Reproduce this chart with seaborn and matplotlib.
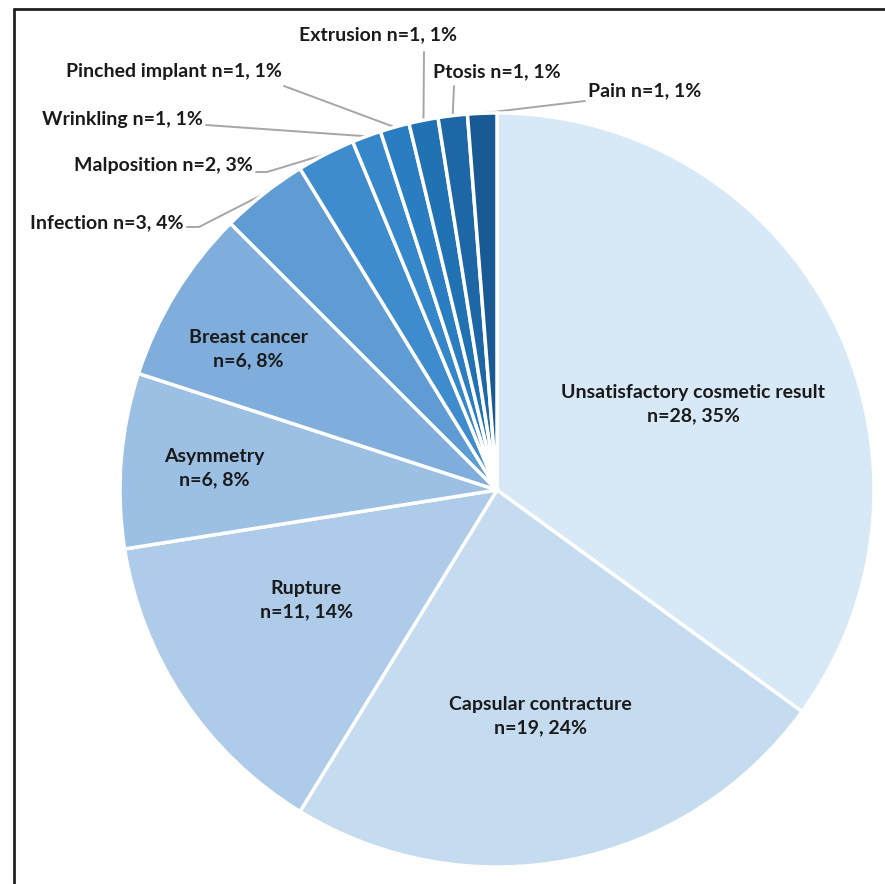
import matplotlib
matplotlib.use("Agg")
import matplotlib.pyplot as plt
import seaborn as sns
import numpy as np
from matplotlib.lines import Line2D

# ---------------- data ----------------
categories = ["Unsatisfactory cosmetic result", "Capsular contracture", "Rupture",
              "Asymmetry", "Breast cancer", "Infection", "Malposition", "Wrinkling",
              "Pinched implant", "Extrusion", "Ptosis", "Pain"]
counts = [28, 19, 11, 6, 6, 3, 2, 1, 1, 1, 1, 1]
colors = ["#D7E8F6", "#C4DBF0", "#AECBE9", "#9BC0E4", "#7FAEDD", "#5F9CD4",
          "#3E8CCD", "#3587CA", "#2A7DC0", "#2172B3", "#1E67A6", "#1A5A94"]

# ---------------- layout ----------------
# inner label centres (px)
inner_layout = {"Unsatisfactory cosmetic result": (693, 404), "Capsular contracture": (540, 716),
                "Rupture": (306, 600), "Asymmetry": (214, 468), "Breast cancer": (248, 349)}
# outer labels: text anchor (px), ha, leader line points (px) before reaching the wedge edge
outer_layout = {
    "Infection":       (183, 223, "right",  [(187, 227), (199, 227)]),
    "Malposition":     (253, 165, "right",  [(256, 172), (267, 172)]),
    "Wrinkling":       (203, 119, "right",  [(206, 125)]),
    "Pinched implant": (282, 71,  "right",  [(284, 86)]),
    "Extrusion":       (378, 35,  "center", [(424, 52)]),
    "Ptosis":          (497, 72,  "center", [(454, 86)]),
    "Pain":            (588, 91,  "left",   [(585, 101)]),
}

sns.set_theme(style="white")
plt.rcParams['font.family'] = ['Lato', 'DejaVu Sans']

W, H = 885, 884
fig = plt.figure(figsize=(W / 100, H / 100), dpi=100)
fig.patch.set_facecolor("white")
CX, CY, RX, RY = 497, 490, 377, 377
ax = fig.add_axes([(CX - RX) / W, (H - CY - RY) / H, 2 * RX / W, 2 * RY / H])

wedges, _ = ax.pie(counts, colors=colors, startangle=90, counterclock=False, radius=1,
                   wedgeprops=dict(edgecolor="white", linewidth=2.5))
for w in wedges:
    w.set_clip_on(False)
ax.set_xlim(-1, 1)
ax.set_ylim(-1, 1)
ax.set_aspect("auto")
ax.axis("off")


def px2d(px, py):
    return ((px - CX) / RX, (CY - py) / RY)


total = sum(counts)
cum = 0
FS = 14
for name, c in zip(categories, counts):
    pct = int(np.floor(c / total * 100 + 0.5))
    theta = np.deg2rad(90 - (cum + c / 2) / total * 360)
    cum += c
    if name in inner_layout:
        x0, y0 = px2d(*inner_layout[name])
        ax.text(x0, y0, f"{name}\nn={c}, {pct}%",
                ha="center", va="center", fontsize=FS, fontweight="bold",
                color="#1a1a1a", linespacing=1.46)
    else:
        tx, ty, ha, pts = outer_layout[name]
        x0, y0 = px2d(tx, ty)
        ax.text(x0, y0, f"{name} n={c}, {pct}%", ha=ha, va="center", fontsize=FS,
                fontweight="bold", color="#1a1a1a", clip_on=False)
        xs = [px2d(*p)[0] for p in pts] + [1.0 * np.cos(theta)]
        ys = [px2d(*p)[1] for p in pts] + [1.0 * np.sin(theta)]
        ax.plot(xs, ys, color="#A6A6A6", lw=1.4, clip_on=False, zorder=0.5)

# frame (left and top border)
fig.add_artist(Line2D([14 / W, 14 / W], [0, 1 - 9 / H], transform=fig.transFigure,
                      color="#222222", lw=2))
fig.add_artist(Line2D([14 / W, 1], [1 - 9 / H, 1 - 9 / H], transform=fig.transFigure,
                      color="#222222", lw=2))

fig.savefig("out.png", dpi=100)
